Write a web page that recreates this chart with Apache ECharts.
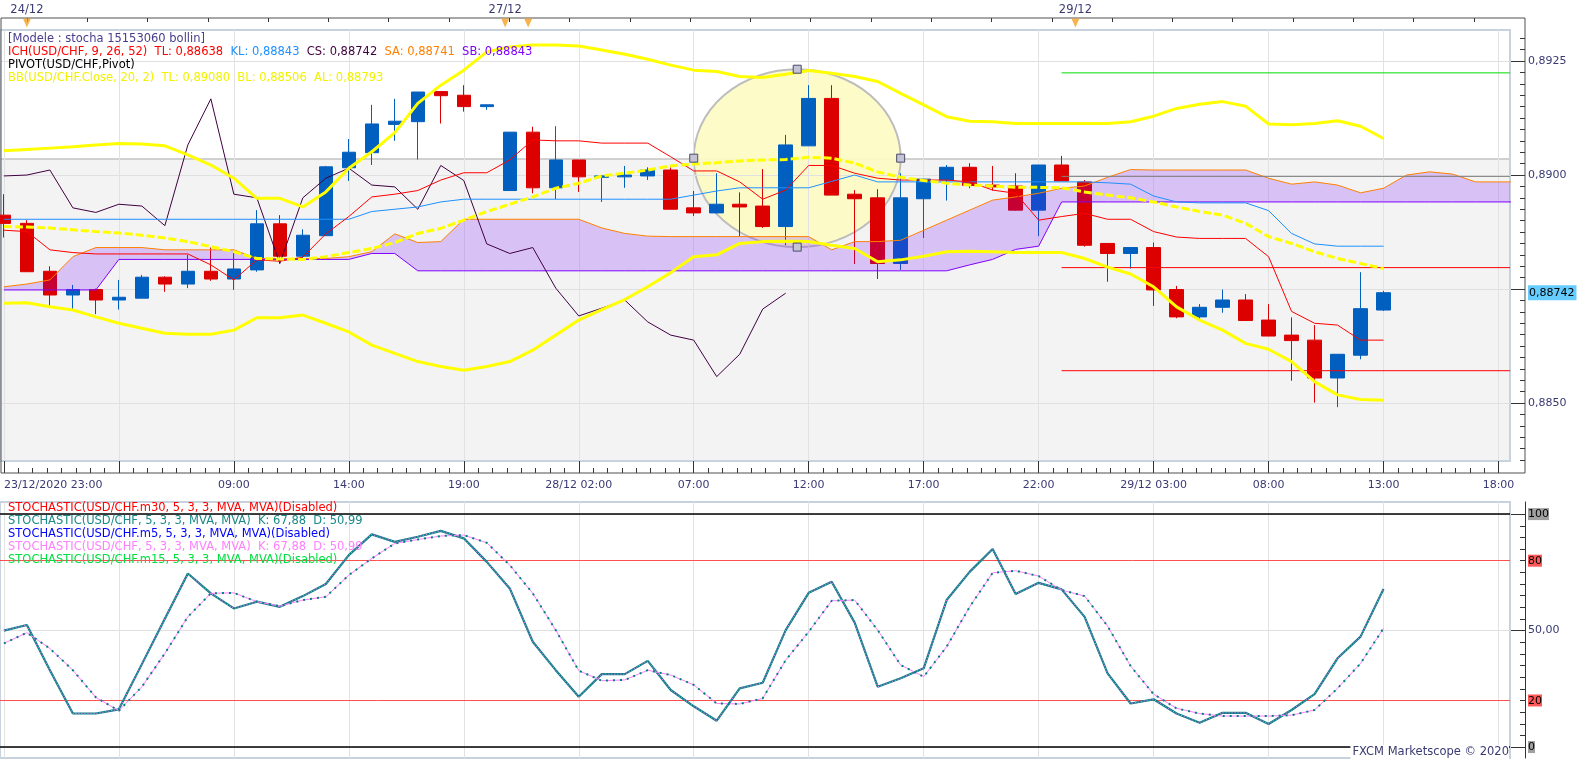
<!DOCTYPE html>
<html>
<head>
<meta charset="utf-8">
<script src="https://cdn.jsdelivr.net/npm/echarts@6.0.0/dist/echarts.min.js"></script>
<style>
html,body{margin:0;padding:0;background:#ffffff;overflow:hidden;}
#chart{width:1583px;height:760px;}
</style>
</head>
<body>
<div id="chart"></div>
<script>
// ---------------- DATA ----------------
// hourly candles, index 0 = 23/12/2020 23:00
const opens = [0.88912,0.88894,0.88789,0.88737,0.88749,0.88726,0.88730,0.88776,0.88761,0.88789,
 0.88772,0.88792,0.88893,0.88822,0.88867,0.89016,0.89049,0.89111,0.89117,0.89183,
 0.89175,0.89150,0.88966,0.89094,0.88972,0.89033,0.88995,0.88996,0.88998,0.89011,
 0.88928,0.88917,0.88936,0.88932,0.88887,0.89064,0.89168,0.88958,0.88950,0.88806,
 0.88948,0.88989,0.89017,0.88978,0.88976,0.88923,0.89022,0.88985,0.88850,0.88828,
 0.88841,0.88749,0.88689,0.88710,0.88726,0.88682,0.88649,0.88638,0.88555,0.88605,
 0.88704];
const closes = [0.88894,0.88788,0.88737,0.88749,0.88726,0.88732,0.88776,0.88761,0.88789,0.88772,
 0.88794,0.88893,0.88822,0.88868,0.89018,0.89050,0.89112,0.89118,0.89182,0.89174,
 0.89150,0.89154,0.89094,0.88972,0.89033,0.88996,0.88998,0.89000,0.89011,0.88925,
 0.88917,0.88936,0.88930,0.88887,0.89066,0.89168,0.88956,0.88948,0.88806,0.88950,
 0.88991,0.89017,0.88977,0.88974,0.88923,0.89022,0.88987,0.88846,0.88828,0.88841,
 0.88748,0.88689,0.88710,0.88726,0.88681,0.88647,0.88637,0.88555,0.88607,0.88707,
 0.88742];
const lows = [0.88863,0.88788,0.88713,0.88705,0.88695,0.88705,0.88730,0.88744,0.88752,0.88768,
 0.88748,0.88788,0.88806,0.88814,0.88867,0.88987,0.89022,0.89075,0.89034,0.89113,
 0.89139,0.89143,0.88966,0.88960,0.88947,0.88963,0.88941,0.88972,0.88989,0.88925,
 0.88910,0.88916,0.88865,0.88884,0.88846,0.89064,0.88956,0.88805,0.88772,0.88792,
 0.88862,0.88944,0.88971,0.88966,0.88922,0.88866,0.88987,0.88843,0.88766,0.88795,
 0.88713,0.88686,0.88682,0.88698,0.88681,0.88647,0.88549,0.88501,0.88491,0.88596,
 0.88702];
const highs = [0.88958,0.88901,0.88800,0.88759,0.88751,0.88770,0.88781,0.88778,0.88825,0.88841,
 0.88834,0.88923,0.88912,0.88881,0.89020,0.89079,0.89154,0.89167,0.89182,0.89183,
 0.89197,0.89154,0.89094,0.89106,0.89107,0.89033,0.89000,0.89020,0.89017,0.89017,
 0.88965,0.89004,0.88962,0.89013,0.89088,0.89197,0.89197,0.88967,0.88969,0.89004,
 0.88991,0.89022,0.89026,0.89020,0.89004,0.89022,0.89042,0.88989,0.88851,0.88841,
 0.88852,0.88757,0.88717,0.88749,0.88739,0.88717,0.88688,0.88671,0.88607,0.88787,
 0.88746];

const tenkan = [0.88879,0.88876,0.88836,0.88830,0.88827,0.88827,0.88827,0.88827,0.88827,0.88803,
 0.88770,0.88814,0.88811,0.88820,0.88871,0.88909,0.88952,0.88958,0.88966,0.88989,
 0.89005,0.89005,0.89033,0.89077,0.89075,0.89075,0.89070,0.89070,0.89070,0.89040,
 0.89009,0.89009,0.88985,0.88947,0.88967,0.89021,0.89021,0.89004,0.88993,0.88989,
 0.88989,0.88989,0.88985,0.88967,0.88960,0.88901,0.88909,0.88916,0.88903,0.88903,
 0.88876,0.88864,0.88861,0.88861,0.88861,0.88821,0.88701,0.88675,0.88671,0.88638,
 0.88638];
const kijun = [0.88903,0.88903,0.88903,0.88903,0.88903,0.88903,0.88903,0.88903,0.88903,0.88903,
 0.88903,0.88903,0.88903,0.88903,0.88903,0.88903,0.88920,0.88925,0.88930,0.88941,
 0.88947,0.88947,0.88947,0.88947,0.88947,0.88947,0.88947,0.88947,0.88947,0.88947,
 0.88956,0.88965,0.88972,0.88972,0.88972,0.88972,0.88986,0.89000,0.88985,0.88985,
 0.88985,0.88985,0.88985,0.88985,0.88985,0.88985,0.88985,0.88985,0.88983,0.88980,
 0.88954,0.88941,0.88939,0.88939,0.88939,0.88922,0.88872,0.88849,0.88844,0.88844,
 0.88844];
const chikou = [0.88998,0.89000,0.89011,0.88928,0.88918,0.88936,0.88932,0.88889,0.89066,0.89167,
 0.88958,0.88950,0.88806,0.88950,0.88993,0.89015,0.88978,0.88974,0.88925,0.89021,
 0.88988,0.88849,0.88828,0.88841,0.88752,0.88691,0.88708,0.88726,0.88678,0.88649,
 0.88638,0.88558,0.88607,0.88706,0.88741];
const senkouA = [0.88755,0.88761,0.88770,0.88821,0.88841,0.88841,0.88841,0.88836,0.88836,0.88836,
 0.88836,0.88817,0.88817,0.88817,0.88817,0.88821,0.88832,0.88871,0.88852,0.88854,
 0.88903,0.88903,0.88903,0.88903,0.88903,0.88903,0.88884,0.88872,0.88866,0.88865,
 0.88865,0.88865,0.88865,0.88865,0.88865,0.88865,0.88836,0.88854,0.88854,0.88857,
 0.88879,0.88901,0.88923,0.88945,0.88952,0.88960,0.88971,0.88976,0.88995,0.89012,
 0.89011,0.89011,0.89011,0.89011,0.89011,0.88993,0.88980,0.88985,0.88978,0.88961,
 0.88971,0.89000,0.89007,0.89002,0.88985,0.88985,0.88985];
const senkouB = [0.88748,0.88748,0.88748,0.88748,0.88748,0.88815,0.88815,0.88815,0.88815,0.88815,
 0.88815,0.88815,0.88815,0.88815,0.88815,0.88815,0.88828,0.88828,0.88790,0.88790,
 0.88790,0.88790,0.88790,0.88790,0.88790,0.88790,0.88790,0.88790,0.88790,0.88790,
 0.88790,0.88790,0.88790,0.88790,0.88790,0.88790,0.88790,0.88790,0.88790,0.88790,
 0.88790,0.88790,0.88803,0.88815,0.88837,0.88844,0.88941,0.88941,0.88941,0.88941,
 0.88941,0.88941,0.88941,0.88941,0.88941,0.88941,0.88941,0.88941,0.88941,0.88941,
 0.88941,0.88941,0.88941,0.88941,0.88941,0.88941,0.88941];

const bbUpper = [0.89053,0.89056,0.89059,0.89062,0.89066,0.89069,0.89068,0.89064,0.89044,0.89022,
 0.88993,0.88949,0.88949,0.88930,0.88963,0.89015,0.89051,0.89093,0.89157,0.89197,
 0.89230,0.89270,0.89281,0.89285,0.89285,0.89283,0.89274,0.89265,0.89254,0.89241,
 0.89230,0.89227,0.89216,0.89214,0.89221,0.89229,0.89223,0.89216,0.89205,0.89179,
 0.89154,0.89128,0.89118,0.89117,0.89113,0.89113,0.89113,0.89113,0.89113,0.89117,
 0.89129,0.89146,0.89155,0.89161,0.89151,0.89112,0.89110,0.89113,0.89119,0.89107,
 0.89080];
const bbMiddle = [0.88887,0.88886,0.88884,0.88880,0.88876,0.88873,0.88868,0.88862,0.88854,0.88843,
 0.88832,0.88817,0.88816,0.88815,0.88821,0.88830,0.88839,0.88852,0.88872,0.88883,
 0.88901,0.88920,0.88936,0.88952,0.88971,0.88982,0.88998,0.89004,0.89011,0.89020,
 0.89024,0.89027,0.89031,0.89033,0.89034,0.89039,0.89037,0.89026,0.89007,0.88995,
 0.88988,0.88982,0.88978,0.88976,0.88973,0.88973,0.88972,0.88963,0.88956,0.88950,
 0.88941,0.88930,0.88920,0.88912,0.88894,0.88865,0.88850,0.88832,0.88817,0.88806,
 0.88795];
const bbLower = [0.88719,0.88720,0.88711,0.88704,0.88689,0.88675,0.88664,0.88653,0.88651,0.88651,
 0.88660,0.88687,0.88687,0.88693,0.88675,0.88656,0.88627,0.88609,0.88591,0.88580,
 0.88572,0.88580,0.88591,0.88616,0.88649,0.88682,0.88705,0.88727,0.88755,0.88786,
 0.88821,0.88825,0.88850,0.88854,0.88855,0.88854,0.88846,0.88839,0.88810,0.88814,
 0.88822,0.88832,0.88833,0.88832,0.88830,0.88830,0.88830,0.88817,0.88798,0.88783,
 0.88755,0.88711,0.88682,0.88660,0.88631,0.88618,0.88591,0.88547,0.88518,0.88508,
 0.88506];

const pivotLevels = [0.89224, 0.88997, 0.88797, 0.88571];
const pivotColors = ['#00dd00', '#808080', '#ff0000', '#ff0000'];
const pivotStart = 46;

const stochK = [50.0,52.4,33.0,14.4,14.4,16.2,35.6,55.1,74.5,66.0,
 59.5,62.4,60.2,64.8,70.0,82.4,91.3,88.1,90.3,92.8,
 89.6,79.5,68.1,45.2,33.0,21.6,31.3,31.3,37.0,24.5,
 17.5,11.3,25.2,27.6,50.2,66.2,71.0,53.4,25.9,29.5,
 33.8,63.1,75.2,85.0,65.7,70.5,67.7,55.9,31.6,18.7,
 20.5,14.4,10.4,14.7,14.7,9.9,15.9,22.7,38.1,47.4,
 67.88];
const stochD = [44.5,49.1,42.3,33.0,21.3,15.6,25.9,40.2,55.9,66.0,
 66.2,62.4,60.5,63.1,64.5,73.8,81.0,87.4,89.1,90.6,
 91.0,87.7,78.1,66.0,50.2,32.8,28.5,28.8,33.0,30.9,
 26.7,18.7,18.5,20.9,37.3,49.5,62.8,63.1,50.2,35.2,
 30.2,43.1,60.2,74.8,75.7,73.4,67.4,64.8,51.9,34.8,
 22.7,16.6,14.4,13.3,13.3,13.3,13.7,15.9,25.2,35.9,
 50.99];
const stochLevels = [100, 80, 20, 0];

const xTickLabels = ['23/12/2020 23:00', '', '09:00', '14:00', '19:00', '28/12 02:00', '07:00',
  '12:00', '17:00', '22:00', '29/12 03:00', '08:00', '13:00', '18:00'];
const dateLabels = [[1, '24/12'], [21.8, '27/12'], [46.6, '29/12']];
const dateMarks = [1, 21.8, 22.8, 46.6];
const priceLabelValues = [0.885, 0.89, 0.8925];
const priceGridValues = [0.885, 0.8875, 0.89, 0.8925];
const lastPrice = 0.88742;
const stochLabelValues = [0, 20, 50, 80, 100];
const shadeTop = 0.89035;
const annotation = { cx: 34.5, cy: 0.89037, rx: 4.5, ry: 0.00195 };

// ---------------- CHART ----------------
const FONT = '"DejaVu Sans", Verdana, sans-serif';
const NAVY = '#3a3a72';
const X_MIN = -0.17, X_MAX = 65.5;
const P_MIN = 0.88373, P_MAX = 0.89318;
const S_MIN = -4.7, S_MAX = 105.2;

const pts = arr => arr.map((v, i) => [i, v]);
const rnd = (v, d) => Math.round(v * Math.pow(10, d)) / Math.pow(10, d);

const xMajor = xTickLabels.map((_, k) => k * 5);
const xLabelVals = xMajor.filter((v, k) => xTickLabels[k] !== '');
const xMinor = []; for (let k = 0; k * 0.625 <= X_MAX; k++) xMinor.push(rnd(k * 0.625, 4));
const topTicks = []; for (let k = 0; 1 + k * 2.622 <= X_MAX; k++) topTicks.push(rnd(1 + k * 2.622, 4));
const priceMinor = []; for (let k = Math.ceil(P_MIN / 0.00025); k * 0.00025 <= P_MAX; k++) priceMinor.push(rnd(k * 0.00025, 5));
const stochMinor = []; for (let v = 0; v <= 100; v += 5) stochMinor.push(v);

const chart = echarts.init(document.getElementById('chart'), null, { renderer: 'canvas' });

function richText(y, parts, x) {
  const rich = {};
  const text = parts.map((p, j) => { rich['s' + j] = { fill: p[1], font: '11.5px ' + FONT }; return '{s' + j + '|' + p[0] + '}'; }).join('');
  return { type: 'text', x: x || 8, y: y, z: 100,
    style: { text: text, rich: rich, font: '11.5px ' + FONT, verticalAlign: 'middle', textVerticalAlign: 'middle' } };
}

const graphics = [
  richText(39, [['[Modele : stocha 15153060 bollin]', '#483d8b']]),
  richText(52, [['ICH(USD/CHF, 9, 26, 52)  TL: 0,88638  ', '#ff0000'], ['KL: 0,88843  ', '#1e90ff'],
                ['CS: 0,88742  ', '#400040'], ['SA: 0,88741  ', '#ff8000'], ['SB: 0,88843', '#8000ff']]),
  richText(65, [['PIVOT(USD/CHF,Pivot)', '#000000']]),
  richText(78, [['BB(USD/CHF.Close, 20, 2)  TL: 0,89080  BL: 0,88506  AL: 0,88793', '#f2f200']]),
  richText(508.5, [['STOCHASTIC(USD/CHF.m30, 5, 3, 3, MVA, MVA)(Disabled)', '#ff0000']]),
  richText(521.5, [['STOCHASTIC(USD/CHF, 5, 3, 3, MVA, MVA)  K: 67,88  D: 50,99', '#1a8a8a']]),
  richText(534.5, [['STOCHASTIC(USD/CHF.m5, 5, 3, 3, MVA, MVA)(Disabled)', '#0000ff']]),
  richText(547.5, [['STOCHASTIC(USD/CHF, 5, 3, 3, MVA, MVA)  K: 67,88  D: 50,99', '#ff80ff']]),
  richText(560.5, [['STOCHASTIC(USD/CHF.m15, 5, 3, 3, MVA, MVA)(Disabled)', '#00e040']]),
  { type: 'text', x: 1509, y: 752, z: 100,
    style: { text: 'FXCM Marketscope © 2020', fill: NAVY, font: '11.5px ' + FONT, backgroundColor: '#ffffff',
      align: 'right', textAlign: 'right', verticalAlign: 'middle', textVerticalAlign: 'middle', padding: [1, 0, 1, 2] } }
];

const lineS = (name, data, color, width, xi, yi, extra) => Object.assign({
  name: name, type: 'line', data: data, xAxisIndex: xi, yAxisIndex: yi, symbol: 'none', showSymbol: false,
  lineStyle: { color: color, width: width }, z: 4, silent: true, animation: false
}, extra || {});

const series = [
  // background shade (below gridlines)
  { type: 'line', xAxisIndex: 1, yAxisIndex: 1, data: [[X_MIN, shadeTop]], symbol: 'none', lineStyle: { width: 0, opacity: 0 },
    silent: true,
    markArea: { z: -1, silent: true, animation: false,
      itemStyle: { color: '#f3f3f3', borderColor: '#c4c4c4', borderWidth: 1.5 },
      data: [[{ coord: [X_MIN, shadeTop] }, { coord: [X_MAX, P_MIN] }]] } },
  // ellipse annotation
  { type: 'custom', xAxisIndex: 1, yAxisIndex: 1, z: -0.5, silent: true, clip: true,
    data: [[annotation.cx, annotation.cy]],
    renderItem: (params, api) => {
      const c = api.coord([api.value(0), api.value(1)]);
      const s = api.size([annotation.rx, annotation.ry]);
      const rx = s[0], ry = s[1];
      const d = 'M' + (c[0] - rx) + ',' + c[1] + ' A' + rx + ',' + ry + ' 0 1 0 ' + (c[0] + rx) + ',' + c[1] +
                ' A' + rx + ',' + ry + ' 0 1 0 ' + (c[0] - rx) + ',' + c[1] + ' Z';
      return { type: 'path', shape: { pathData: d }, style: { fill: 'rgba(253,252,196,0.92)', stroke: '#bdbdbd', lineWidth: 2 } };
    } },
  // candles
  { type: 'candlestick', xAxisIndex: 1, yAxisIndex: 1, barWidth: 14, z: 2, silent: true,
    encode: { x: 0, y: [1, 2, 3, 4] },
    data: opens.map((o, i) => [i, o, closes[i], lows[i], highs[i]]),
    itemStyle: { color: '#005fbf', color0: '#dd0000', borderColor: '#005fbf', borderColor0: '#dd0000', borderWidth: 1 } },
  // ichimoku cloud
  { type: 'custom', xAxisIndex: 1, yAxisIndex: 1, z: 3, silent: true, clip: true,
    data: [[0, senkouA[0]]],
    renderItem: (params, api) => {
      const top = senkouA.map((v, i) => api.coord([i, v]));
      const bot = senkouB.map((v, i) => api.coord([i, v])).reverse();
      return { type: 'polygon', shape: { points: top.concat(bot) }, style: { fill: 'rgba(110,0,255,0.2)' } };
    } },
  lineS('SA', pts(senkouA), '#ff8000', 1, 1, 1),
  lineS('SB', pts(senkouB), '#8000ff', 1, 1, 1),
  lineS('Chikou', pts(chikou), '#400040', 1, 1, 1),
  lineS('Kijun', pts(kijun), '#1e90ff', 1, 1, 1),
  lineS('Tenkan', pts(tenkan), '#ff0000', 1, 1, 1),
  lineS('BBU', pts(bbUpper), '#ffff00', 3, 1, 1, { z: 5 }),
  lineS('BBM', pts(bbMiddle), '#ffff00', 3, 1, 1, { z: 5, lineStyle: { color: '#ffff00', width: 3, type: [8, 3] } }),
  lineS('BBL', pts(bbLower), '#ffff00', 3, 1, 1, { z: 5 }),
].concat(pivotLevels.map((lv, k) => lineS('P' + k, [[pivotStart, lv], [X_MAX, lv]], pivotColors[k], 1, 1, 1)))
.concat([
  // ellipse handles
  { type: 'custom', xAxisIndex: 1, yAxisIndex: 1, z: 10, silent: true,
    data: [[annotation.cx, annotation.cy]],
    renderItem: (params, api) => {
      const c = api.coord([api.value(0), api.value(1)]);
      const s = api.size([annotation.rx, annotation.ry]);
      const h = (x, y) => ({ type: 'rect', shape: { x: x - 4, y: y - 4, width: 8, height: 8 },
        style: { fill: '#c4c4d4', stroke: '#4a4a6a', lineWidth: 1 } });
      return { type: 'group', children: [h(c[0], c[1] - s[1]), h(c[0] - s[0], c[1]), h(c[0] + s[0], c[1]), h(c[0], c[1] + s[1])] };
    } },
  // date markers
  { type: 'scatter', xAxisIndex: 1, yAxisIndex: 1, z: 10, silent: true, clip: false,
    data: dateMarks.map(x => [x, P_MAX]), symbol: 'path://M0,0L10,0L5,10Z', symbolSize: [8, 9], symbolOffset: [0, -7],
    itemStyle: { color: '#f5a020' } },
  // stochastic
  lineS('K', pts(stochK), '#0e7f88', 2.2, 4, 3, {
    markLine: { silent: true, symbol: 'none', animation: false, label: { show: false }, z: 3,
      data: stochLevels.map(v => ({ yAxis: v, lineStyle: { color: (v === 80 || v === 20) ? '#ff5050' : '#000000', width: (v === 80 || v === 20) ? 1 : 1.5, type: 'solid' } })) } }),
  lineS('K2', pts(stochK), '#ff80ff', 1, 4, 3, { lineStyle: { color: '#ff80ff', width: 1, type: [1, 2] } }),
  lineS('D', pts(stochD), '#ff80ff', 1, 4, 3),
  lineS('D2', pts(stochD), '#008080', 2, 4, 3, { lineStyle: { color: '#008080', width: 2, type: [2, 5] } })
]);

const axisFont = { fontFamily: FONT, fontSize: 11, color: NAVY };
const noZero = { onZero: false };

const option = {
  animation: false,
  backgroundColor: '#ffffff',
  grid: [
    { left: 1, right: 58, top: 18, bottom: 287, show: true, borderColor: '#505050', borderWidth: 1, backgroundColor: 'transparent', z: 1, outerBoundsMode: 'none', containLabel: false },
    { left: 0, right: 73, top: 30, bottom: 299, show: true, borderColor: '#c8d2de', borderWidth: 2, backgroundColor: 'transparent', outerBoundsMode: 'none', containLabel: false },
    { left: 0, right: 73, top: 502, bottom: 2, show: true, borderColor: '#c8d2de', borderWidth: 2, backgroundColor: 'transparent', outerBoundsMode: 'none', containLabel: false }
  ],
  xAxis: [
    { gridIndex: 0, type: 'value', min: 0, max: 1, show: false, axisLine: noZero },
    { gridIndex: 1, type: 'value', min: X_MIN, max: X_MAX, position: 'bottom', offset: 12,
      axisLine: { show: false, onZero: false },
      axisTick: { show: true, inside: true, length: 12, customValues: xMajor, lineStyle: { color: '#333' } },
      axisLabel: Object.assign({ customValues: xLabelVals, margin: 7, alignMinLabel: 'left',
        formatter: v => xTickLabels[xMajor.indexOf(Math.round(v))] || '' }, axisFont),
      splitLine: { show: true, lineStyle: { color: '#e2e2e2', width: 1 } } },
    { gridIndex: 1, type: 'value', min: X_MIN, max: X_MAX, position: 'bottom', offset: 12,
      axisLine: { show: false, onZero: false },
      axisTick: { show: true, inside: true, length: 5, customValues: xMinor, lineStyle: { color: '#333' } },
      axisLabel: { show: false }, splitLine: { show: false } },
    { gridIndex: 1, type: 'value', min: X_MIN, max: X_MAX, position: 'top', offset: 12,
      axisLine: { show: false, onZero: false },
      axisTick: { show: true, inside: true, length: 4, customValues: topTicks, lineStyle: { color: '#333' } },
      axisLabel: { customValues: dateLabels.map(d => d[0]), margin: 2, fontFamily: FONT, color: NAVY, fontSize: 11.5,
        formatter: v => { const f = dateLabels.find(d => Math.abs(d[0] - v) < 1e-6); return f ? f[1] : ''; } },
      splitLine: { show: false } },
    { gridIndex: 2, type: 'value', min: X_MIN, max: X_MAX, position: 'bottom',
      axisLine: { show: false, onZero: false }, axisTick: { show: false, customValues: xMajor },
      axisLabel: { show: false, customValues: xMajor },
      splitLine: { show: true, lineStyle: { color: '#e2e2e2', width: 1 } } }
  ],
  yAxis: [
    { gridIndex: 0, type: 'value', min: 0, max: 1, show: false, axisLine: noZero },
    { gridIndex: 1, type: 'value', min: P_MIN, max: P_MAX, position: 'right', offset: 15,
      axisLine: { show: false, onZero: false },
      axisTick: { show: true, inside: true, length: 14, customValues: priceGridValues, lineStyle: { color: '#333' } },
      axisLabel: Object.assign({ customValues: priceLabelValues.concat([lastPrice]), margin: 3,
        formatter: v => Math.abs(v - lastPrice) < 1e-9 ? '{cur|' + v.toFixed(5).replace('.', ',') + '}' : v.toFixed(4).replace('.', ','),
        rich: { cur: { backgroundColor: '#66ccff', color: '#000', padding: [2, 2, 2, 1], fontFamily: FONT, fontSize: 11 } } }, axisFont),
      splitLine: { show: true, lineStyle: { color: '#e0e0e0', width: 1 } } },
    { gridIndex: 1, type: 'value', min: P_MIN, max: P_MAX, position: 'right', offset: 15,
      axisLine: { show: false, onZero: false },
      axisTick: { show: true, inside: true, length: 5, customValues: priceMinor, lineStyle: { color: '#333' } },
      axisLabel: { show: false }, splitLine: { show: false } },
    { gridIndex: 2, type: 'value', min: S_MIN, max: S_MAX, position: 'right', offset: 15,
      axisLine: { show: true, onZero: false, lineStyle: { color: '#333', width: 1 } },
      axisTick: { show: true, inside: true, length: 14, customValues: [0, 50, 100], lineStyle: { color: '#333' } },
      axisLabel: Object.assign({ customValues: stochLabelValues, margin: 3,
        formatter: v => v === 50 ? '50,00' : ((v === 80 || v === 20) ? '{r|' + v + '}' : '{g|' + v + '}'),
        rich: { r: { backgroundColor: '#ff5858', color: '#000', padding: [1, 0, 0, 0], fontFamily: FONT, fontSize: 11 },
                g: { backgroundColor: '#a0a0a0', color: '#000', padding: [1, 0, 0, 0], fontFamily: FONT, fontSize: 11 } } }, axisFont),
      splitLine: { show: true, lineStyle: { color: '#e0e0e0', width: 1 } } },
    { gridIndex: 2, type: 'value', min: S_MIN, max: S_MAX, position: 'right', offset: 15,
      axisLine: { show: false, onZero: false },
      axisTick: { show: true, inside: true, length: 5, customValues: stochMinor, lineStyle: { color: '#333' } },
      axisLabel: { show: false }, splitLine: { show: false } }
  ],
  graphic: graphics,
  series: series
};

chart.setOption(option);
</script>
</body>
</html>
